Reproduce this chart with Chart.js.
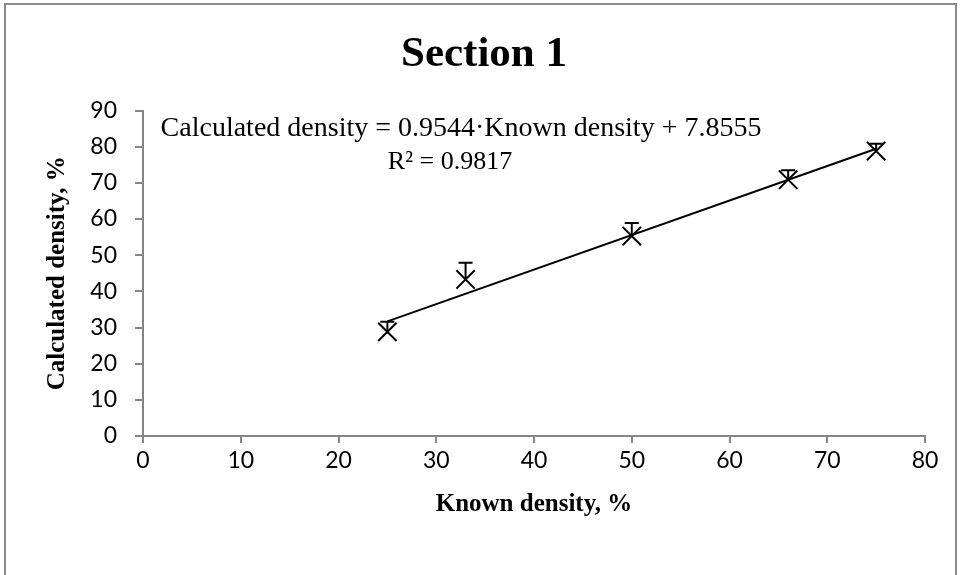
<!DOCTYPE html>
<html>
<head>
<meta charset="utf-8">
<script src="https://cdn.jsdelivr.net/npm/chart.js"></script>
<style>
html, body { margin: 0; padding: 0; background: #fff; }
#wrap { width: 962px; height: 575px; }
</style>
</head>
<body>
<div id="wrap"><canvas id="densityChart" width="962" height="575"></canvas></div>
<script>
// data
const knownDensity = [25, 33, 50, 66, 75];
const calcDensity = [28.8, 43.3, 55.3, 70.9, 78.8];
const errPlus = [2.8, 4.6, 3.6, 2.6, 2.0];
const trendX = [25, 75];
const trendSlope = 0.9544;
const trendIntercept = 7.8555;
const xTicks = [0, 10, 20, 30, 40, 50, 60, 70, 80];
const yTicks = [0, 10, 20, 30, 40, 50, 60, 70, 80, 90];
const eqLine1 = "Calculated density = 0.9544·Known density + 7.8555";
const eqLine2 = "R² = 0.9817";

const axisGray = "#868686";

// white page with grey frame
const framePlugin = {
  id: "frame",
  beforeDraw(chart) {
    const ctx = chart.ctx;
    ctx.save();
    ctx.fillStyle = "#fff";
    ctx.fillRect(0, 0, chart.width, chart.height);
    ctx.strokeStyle = "#8a8a8a";
    ctx.lineWidth = 2;
    ctx.strokeRect(5, 4, 951, 600);
    ctx.restore();
  }
};

// positive error bars with caps
const errorBarPlugin = {
  id: "errorBars",
  afterDatasetsDraw(chart) {
    const ctx = chart.ctx;
    const xs = chart.scales.x, ys = chart.scales.y;
    ctx.save();
    ctx.strokeStyle = "#000";
    ctx.lineWidth = 2;
    knownDensity.forEach((k, i) => {
      const px = xs.getPixelForValue(k);
      const py = ys.getPixelForValue(calcDensity[i]);
      const top = ys.getPixelForValue(calcDensity[i] + errPlus[i]);
      ctx.beginPath();
      ctx.moveTo(px, py);
      ctx.lineTo(px, top);
      ctx.moveTo(px - 7, top);
      ctx.lineTo(px + 7, top);
      ctx.stroke();
    });
    ctx.restore();
  }
};

// trendline equation
const equationPlugin = {
  id: "equation",
  afterDraw(chart) {
    const ctx = chart.ctx;
    ctx.save();
    ctx.fillStyle = "#000";
    ctx.textBaseline = "middle";
    ctx.textAlign = "center";
    ctx.font = "28px 'Liberation Serif'";
    ctx.fillText(eqLine1, 461, 129);
    ctx.font = "26px 'Liberation Serif'";
    ctx.fillText(eqLine2, 450, 162);
    ctx.restore();
  }
};

function renderChart() {
  const points = knownDensity.map((k, i) => ({ x: k, y: calcDensity[i] }));
  const trend = trendX.map(k => ({ x: k, y: trendSlope * k + trendIntercept }));

  new Chart(document.getElementById("densityChart"), {
    type: "scatter",
    data: {
      datasets: [
        {
          type: "line",
          data: trend,
          borderColor: "#000",
          borderWidth: 2,
          pointRadius: 0,
          fill: false
        },
        {
          data: points,
          pointStyle: "crossRot",
          pointRadius: 13,
          borderColor: "#000",
          backgroundColor: "#000",
          pointBorderWidth: 2
        }
      ]
    },
    options: {
      responsive: false,
      animation: false,
      devicePixelRatio: 1,
      layout: { padding: { left: 43, right: 37, top: 10, bottom: 58 } },
      plugins: {
        legend: { display: false },
        tooltip: { enabled: false },
        title: {
          display: true,
          text: "Section 1",
          color: "#000",
          font: { family: "'Liberation Serif'", size: 43, weight: "bold" },
          padding: { top: 19, bottom: 30 }
        }
      },
      scales: {
        x: {
          type: "linear",
          min: 0,
          max: 80,
          afterBuildTicks: s => { s.ticks = xTicks.map(v => ({ value: v })); },
          afterFit: s => { s.height = 81; },
          border: { color: axisGray, width: 2 },
          grid: { drawOnChartArea: false, color: axisGray, lineWidth: 2, tickLength: 7 },
          ticks: { color: "#000", padding: 4, font: { family: "Lato", size: 23 } },
          title: {
            display: true,
            text: "Known density, %",
            color: "#000",
            padding: { top: 0, bottom: -3 },
            font: { family: "'Liberation Serif'", size: 25, weight: "bold" }
          }
        },
        y: {
          type: "linear",
          min: 0,
          max: 90,
          afterBuildTicks: s => { s.ticks = yTicks.map(v => ({ value: v })); },
          afterFit: s => { s.width = 100; },
          border: { color: axisGray, width: 2 },
          grid: { drawOnChartArea: false, color: axisGray, lineWidth: 2, tickLength: 8 },
          ticks: { color: "#000", padding: 18, font: { family: "Lato", size: 23 } },
          title: {
            display: true,
            text: "Calculated density, %",
            color: "#000",
            padding: 0,
            font: { family: "'Liberation Serif'", size: 25, weight: "bold" }
          }
        }
      }
    },
    plugins: [framePlugin, errorBarPlugin, equationPlugin]
  });
}

renderChart();
</script>
</body>
</html>
